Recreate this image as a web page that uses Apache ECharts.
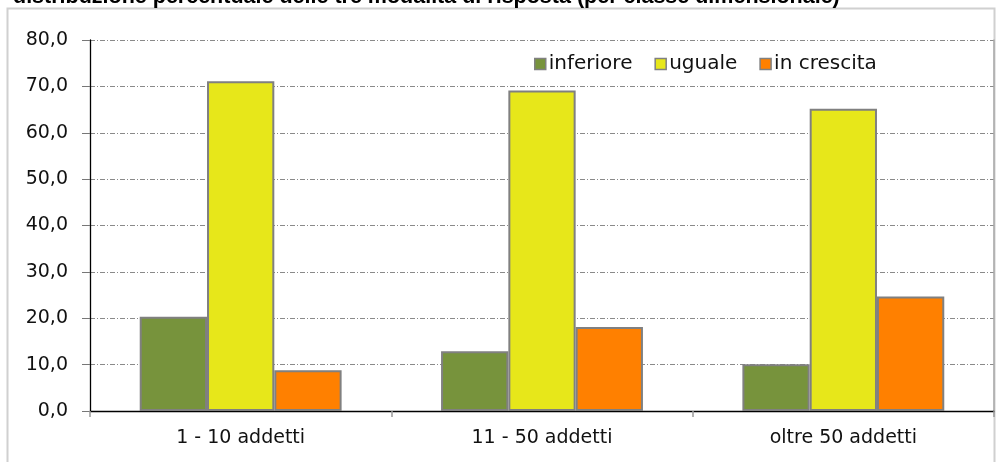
<!DOCTYPE html>
<html>
<head>
<meta charset="utf-8">
<script src="https://cdn.jsdelivr.net/npm/echarts@6/dist/echarts.min.js"></script>
<style>
  html, body { margin: 0; padding: 0; background: #fff; }
  #chart { width: 1008px; height: 462px; }
</style>
</head>
<body>
<div id="chart"></div>
<script>
var categories = ['1 - 10 addetti', '11 - 50 addetti', 'oltre 50 addetti'];
var inferiore = [20.3, 12.9, 10.1];
var uguale = [71.1, 69.1, 65.2];
var inCrescita = [8.8, 18.1, 24.7];
var seriesNames = ['inferiore', 'uguale', 'in crescita'];
var seriesColors = ['#77933c', '#e7e71a', '#ff8000'];

var chart = echarts.init(document.querySelector('#chart'), null);
var fontFam = '"DejaVu Sans", sans-serif';

function barSeries(name, data, color) {
    return {
        name: name,
        type: 'bar',
        data: data,
        barGap: '0%',
        barCategoryGap: '33%',
        itemStyle: { color: color, borderColor: '#808080', borderWidth: 2 }
    };
}

var option = {
    animation: false,
    title: {
        text: 'distribuzione percentuale delle tre modalità di risposta (per classe dimensionale)',
        left: 8,
        top: -19,
        textStyle: { fontFamily: '"Liberation Sans", Arial', fontWeight: 'bold', fontSize: 21.5, color: '#000' }
    },
    graphic: [{
        type: 'rect',
        shape: { x: 7.5, y: 8.5, width: 987, height: 470 },
        style: { fill: 'none', stroke: '#d0d0d0', lineWidth: 2 },
        z: -1
    }],
    legend: {
        top: 49,
        left: 529,
        itemWidth: 11,
        itemHeight: 11,
        itemGap: 22,
        icon: 'rect',
        itemStyle: { borderColor: '#808080', borderWidth: 1.5 },
        textStyle: { fontFamily: fontFam, fontSize: 20, color: '#111', padding: [0, 0, 0, -2] },
        data: seriesNames
    },
    grid: { left: 90, right: 14, top: 40, bottom: 51 },
    xAxis: {
        type: 'category',
        data: categories,
        axisLine: { lineStyle: { color: '#000', width: 1.3 } },
        axisTick: { show: true, length: 6, lineStyle: { color: '#999', width: 1.5 } },
        axisLabel: { fontFamily: fontFam, fontSize: 19, color: '#111', margin: 18 }
    },
    yAxis: [{
        type: 'value',
        min: 0,
        max: 80,
        interval: 10,
        axisLine: { show: true, lineStyle: { color: '#000', width: 1.3 } },
        axisTick: { show: true, length: 8, lineStyle: { color: '#777' } },
        axisLabel: {
            fontFamily: fontFam, fontSize: 19, color: '#111', margin: 22,
            formatter: function (v) { return v.toFixed(1).replace('.', ','); }
        },
        splitLine: { lineStyle: { color: '#8a8a8a', width: 1, type: [5, 2, 1, 2] } }
    }, {
        type: 'value',
        position: 'right',
        min: 0,
        max: 80,
        interval: 10,
        axisLine: { show: true, lineStyle: { color: '#aaa', width: 1.5 } },
        axisTick: { show: false },
        axisLabel: { show: false },
        splitLine: { show: false }
    }],
    series: [
        barSeries(seriesNames[0], inferiore, seriesColors[0]),
        barSeries(seriesNames[1], uguale, seriesColors[1]),
        barSeries(seriesNames[2], inCrescita, seriesColors[2])
    ]
};

chart.setOption(option);

window.addEventListener('resize', function () {
    chart.resize();
});
</script>
</body>
</html>
